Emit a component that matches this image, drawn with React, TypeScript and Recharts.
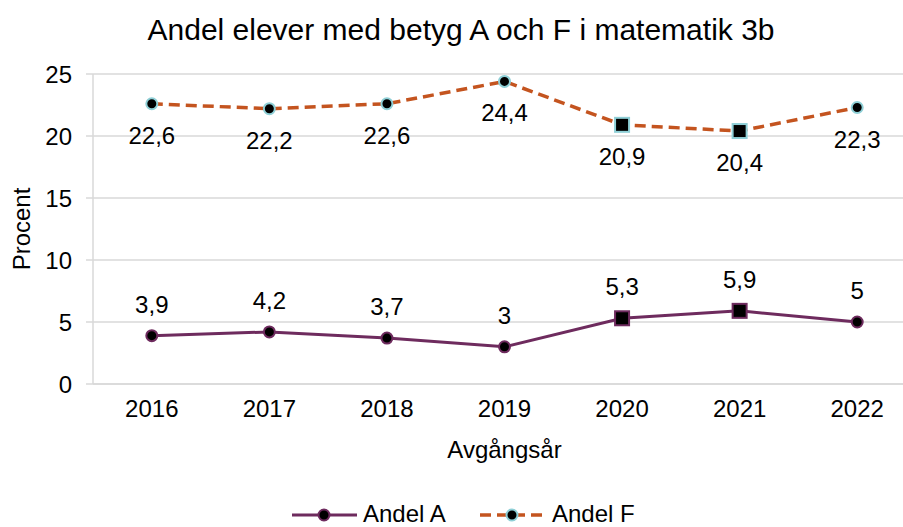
import React from 'react';
import { LineChart, Line, XAxis, YAxis, CartesianGrid, LabelList, Legend } from 'recharts';

const years = ['2016', '2017', '2018', '2019', '2020', '2021', '2022'];
const andelA = [3.9, 4.2, 3.7, 3.0, 5.3, 5.9, 5.0];
const andelF = [22.6, 22.2, 22.6, 24.4, 20.9, 20.4, 22.3];
const yTicks = [0, 5, 10, 15, 20, 25];
const squareYears = ['2020', '2021'];
const seriesNames = ['Andel A', 'Andel F'];

const data = years.map((y, i) => ({ year: y, a: andelA[i], f: andelF[i] }));

const FONT = '"Liberation Sans", Arial, sans-serif';
const COLOR_A = '#6E2B5E';
const COLOR_F = '#C4541F';
const OUTLINE_F = '#8ECFD6';
const GRID = '#D9D9D9';

const fmt = (v: any) => String(v).replace('.', ',');

const makeDot = (outline: string) => (p: any) => {
  const { cx, cy, payload, index } = p;
  if (cx == null || cy == null) return <g key={`d-${index}`} />;
  if (squareYears.includes(payload.year)) {
    return (
      <rect key={`d-${index}`} x={cx - 7} y={cy - 7} width={14} height={14} fill="#000" stroke={outline} strokeWidth={2} />
    );
  }
  return <circle key={`d-${index}`} cx={cx} cy={cy} r={5.5} fill="#000" stroke={outline} strokeWidth={2} />;
};

const LegendContent = () => (
  <svg width={916} height={30} style={{ fontFamily: FONT }}>
    <line x1={292} x2={357} y1={16} y2={16} stroke={COLOR_A} strokeWidth={3} />
    <circle cx={324} cy={16} r={5.5} fill="#000" stroke={COLOR_A} strokeWidth={2} />
    <text x={363} y={23} fontSize={24} fill="#000">{seriesNames[0]}</text>
    <line x1={480} x2={545} y1={16} y2={16} stroke={COLOR_F} strokeWidth={3.5} strokeDasharray="11 6" />
    <circle cx={512} cy={16} r={5.5} fill="#000" stroke={OUTLINE_F} strokeWidth={2} />
    <text x={552} y={23} fontSize={24} fill="#000">{seriesNames[1]}</text>
  </svg>
);

export default function App() {
  return (
    <div style={{ position: 'absolute', left: 0, top: 0, width: 903, height: 527, overflow: 'hidden', background: '#fff', fontFamily: FONT }}>
      <div style={{ position: 'absolute', left: 0, top: 15, width: 922, textAlign: 'center', fontSize: 30, lineHeight: '30px', color: '#000' }}>
        Andel elever med betyg A och F i matematik 3b
      </div>
      <LineChart width={916} height={527} data={data} margin={{ top: 74, right: 0, left: 0, bottom: 83 }} style={{ fontFamily: FONT }}>
        <CartesianGrid vertical={false} stroke={GRID} strokeWidth={1.5} />
        <XAxis
          dataKey="year"
          height={60}
          padding={{ left: 58.8, right: 58.8 }}
          tickLine={false}
          axisLine={{ stroke: GRID, strokeWidth: 1.5 }}
          tick={{ fontSize: 24, fill: '#000' }}
          tickMargin={10}
          label={(props: any) => {
            const vb = props.viewBox || { x: 93, y: 384, width: 823 };
            return (
              <text x={vb.x + vb.width / 2} y={vb.y + 74} textAnchor="middle" fontSize={24} fill="#000">
                Avgångsår
              </text>
            );
          }}
        />
        <YAxis
          width={93}
          domain={[0, 25]}
          ticks={yTicks}
          interval={0}
          tickSize={7}
          tickMargin={14}
          axisLine={{ stroke: GRID, strokeWidth: 1.5 }}
          tickLine={{ stroke: GRID, strokeWidth: 1.5 }}
          tick={{ fontSize: 24, fill: '#000' }}
          label={(props: any) => {
            const vb = props.viewBox || { x: 0, y: 74, width: 93, height: 310 };
            const cy = vb.y + vb.height / 2;
            return (
              <text x={30} y={cy} transform={`rotate(-90 30 ${cy})`} textAnchor="middle" fontSize={24} fill="#000">
                Procent
              </text>
            );
          }}
        />
        <Legend verticalAlign="middle" align="center" layout="horizontal" content={<LegendContent />} wrapperStyle={{ left: 0, top: 499, width: 916, height: 30 }} />
        <Line
          dataKey="a"
          name={seriesNames[0]}
          stroke={COLOR_A}
          strokeWidth={3}
          dot={makeDot(COLOR_A)}
          activeDot={false}
          isAnimationActive={false}
        >
          <LabelList dataKey="a" position="top" offset={23} formatter={fmt} fill="#000" fontSize={24} />
        </Line>
        <Line
          dataKey="f"
          name={seriesNames[1]}
          stroke={COLOR_F}
          strokeWidth={3.5}
          strokeDasharray="11 6"
          dot={makeDot(OUTLINE_F)}
          activeDot={false}
          isAnimationActive={false}
        >
          <LabelList dataKey="f" position="bottom" offset={23} formatter={fmt} fill="#000" fontSize={24} />
        </Line>
      </LineChart>
    </div>
  );
}
